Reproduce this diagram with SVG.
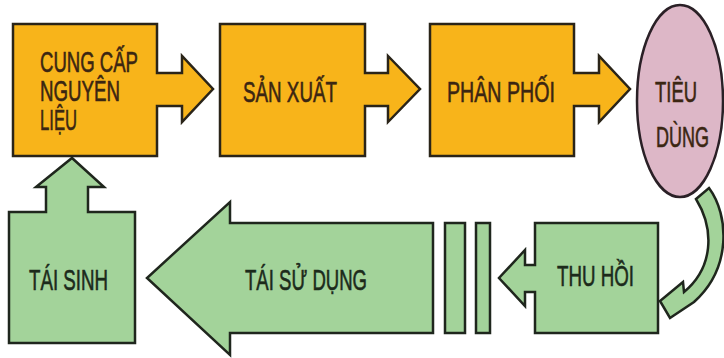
<svg xmlns="http://www.w3.org/2000/svg" width="724" height="358" viewBox="0 0 724 358">
<style>
.o{fill:#f8b41a;stroke:#2a2418;stroke-width:2.5;stroke-linejoin:miter}
.g{fill:#a3d39a;stroke:#1f261d;stroke-width:2.5;stroke-linejoin:miter}
.p{fill:#ddb7c7;stroke:#2a2026;stroke-width:2.5}
.t{font-family:"Liberation Sans",Arial,sans-serif;font-size:29px;stroke-width:0.6}
.to{fill:#3b2612;stroke:#3b2612}
.tg{fill:#1c2a1b;stroke:#1c2a1b}
</style>
<rect width="724" height="358" fill="#ffffff"/>
<g id="cung-cap">
<path class="o" d="M13,24 H157 V73 H182 V56 L213,89 L182,122 V106 H157 V156 H13 Z"/>
<text class="t to" x="40" y="72" textLength="98" lengthAdjust="spacingAndGlyphs">CUNG CẤP</text>
<text class="t to" x="40" y="101" textLength="80" lengthAdjust="spacingAndGlyphs">NGUYÊN</text>
<text class="t to" x="40" y="130" textLength="37" lengthAdjust="spacingAndGlyphs">LIỆU</text>
</g>
<g id="san-xuat">
<path class="o" d="M220,24 H365 V73 H388 V56 L420,89 L388,122 V106 H365 V156 H220 Z"/>
<text class="t to" x="243" y="102" textLength="94" lengthAdjust="spacingAndGlyphs">SẢN XUẤT</text>
</g>
<g id="phan-phoi">
<path class="o" d="M430,24 H574 V73 H599 V56 L630,89 L599,122 V106 H574 V156 H430 Z"/>
<text class="t to" x="447" y="102" textLength="108" lengthAdjust="spacingAndGlyphs">PHÂN PHỐI</text>
</g>
<g id="tieu-dung">
<ellipse class="p" cx="680" cy="101" rx="43" ry="96"/>
<text class="t to" x="655" y="102" textLength="42" lengthAdjust="spacingAndGlyphs">TIÊU</text>
<text class="t to" x="656" y="147" textLength="53" lengthAdjust="spacingAndGlyphs">DÙNG</text>
</g>
<g id="thu-hoi">
<path class="g" d="M535,223 H658 V333 H535 V292 H525 V306 L499,278 L525,250 V265 H535 Z"/>
<text class="t tg" x="557" y="286" textLength="77" lengthAdjust="spacingAndGlyphs">THU HỒI</text>
</g>
<g id="tai-su-dung">
<path class="g" d="M433,223 V333 H230 V355 L147,278 L230,202 V223 Z"/>
<text class="t tg" x="245" y="290" textLength="122" lengthAdjust="spacingAndGlyphs">TÁI SỬ DỤNG</text>
</g>
<g id="tai-sinh">
<path class="g" d="M9,212 H46 V187 H36 L72,158 L104,187 H88 V212 H135 V343 H9 Z"/>
<text class="t tg" x="29" y="290" textLength="79" lengthAdjust="spacingAndGlyphs">TÁI SINH</text>
</g>
<g id="connectors">
<rect class="g" x="445" y="223" width="20" height="110"/>
<rect class="g" x="476" y="223" width="14" height="110"/>
<path class="g" d="M696,199 L709,188 C729,215 732,268 694,302 L670,318 L660,301 L683,282 L684,292 C713,268 715,230 696,199 Z"/>
</g>
</svg>
